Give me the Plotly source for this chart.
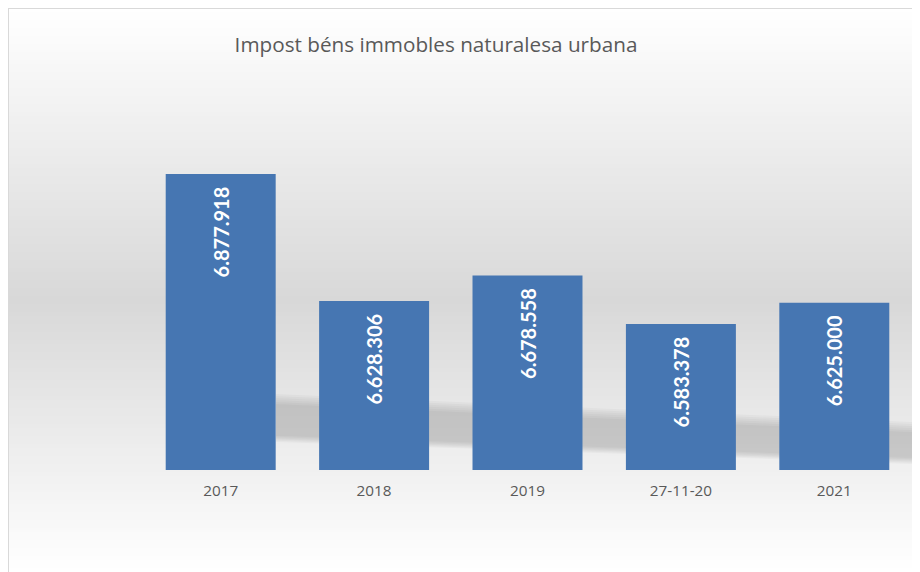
import plotly.graph_objects as go

categories = ["2017", "2018", "2019", "27-11-20", "2021"]
values = [6877918, 6628306, 6678558, 6583378, 6625000]
title_text = "Impost béns immobles naturalesa urbana"

# page is rendered with an 8px body margin; work in page pixels, convert to figure pixels
OFF = 8
W, H = 920 - OFF, 572 - OFF
L, R, T, B = 144 - OFF, 9, 114 - OFF, 102
PW, PH = W - L - R, H - T - B


def px_x(px):  # page px -> paper
    return (px - OFF - L) / PW


def px_y(py):
    return (H - B - (py - OFF)) / PH


shapes = []
# background vertical gradient (white -> grey -> white)
step = 4
for y0 in range(0, 572 + step, step):
    yc = y0 + step / 2
    if yc < 300:
        g = 255 - (255 - 216) * max(0, yc - 10) / 290
    else:
        g = 216 + (255 - 216) * (yc - 300) / 272
    g = int(round(min(255, g)))
    shapes.append(dict(type="rect", xref="paper", yref="paper", layer="below",
                       x0=px_x(0), x1=px_x(930), y0=px_y(y0 + step), y1=px_y(y0),
                       fillcolor=f"rgb({g},{g},{g})", line=dict(width=0)))

# soft floor shadow behind bars
for d in range(0, 12, 2):
    xl, xr = 276, 913
    pts = [(xl, 404 - d), (xr, 432 - d), (xr, 458 + d * 0.6), (xl, 436 + d * 0.6)]
    path = "M " + " L ".join(f"{px_x(a)},{px_y(b)}" for a, b in pts) + " Z"
    shapes.append(dict(type="path", xref="paper", yref="paper", layer="below",
                       path=path, fillcolor="rgba(0,0,0,0.028)", line=dict(width=0)))

# chart border (top & left visible)
shapes.append(dict(type="line", xref="paper", yref="paper", layer="below",
                   x0=px_x(8), x1=px_x(930), y0=px_y(8.5), y1=px_y(8.5),
                   line=dict(color="#d9d9d9", width=1)))
shapes.append(dict(type="line", xref="paper", yref="paper", layer="below",
                   x0=px_x(8.5), x1=px_x(8.5), y0=px_y(8), y1=px_y(580),
                   line=dict(color="#d9d9d9", width=1)))

fig = go.Figure(go.Bar(
    x=categories, y=values,
    marker=dict(color="#4676b2", line=dict(width=0)),
    texttemplate="%{y:,.0f}\u00a0\u00a0", textposition="inside", insidetextanchor="end",
    textangle=-90, constraintext="none",
    textfont=dict(family="Lato", size=20, color="white", weight="bold"),
    cliponaxis=False,
))

fig.update_layout(
    width=W, height=H,
    margin=dict(l=L, r=R, t=T, b=B, pad=0),
    paper_bgcolor="white", plot_bgcolor="rgba(0,0,0,0)",
    separators=",.",
    bargap=0.283,
    showlegend=False,
    shapes=shapes,
    title=dict(text=title_text, x=(436 - OFF) / W, xref="container", xanchor="center",
               y=1 - (45 - OFF) / H, yref="container", yanchor="middle",
               font=dict(family="Open Sans", size=20.7, color="#595959")),
    xaxis=dict(showgrid=False, showline=False, zeroline=False, ticks="",
               ticklabelstandoff=10,
               tickfont=dict(family="Open Sans", size=15.3, color="#595959"),
               fixedrange=True),
    yaxis=dict(range=[6296700, 6296700 + PH * 1963.6], visible=False,
               showgrid=False, zeroline=False, fixedrange=True),
)

fig.write_html("out.html")
